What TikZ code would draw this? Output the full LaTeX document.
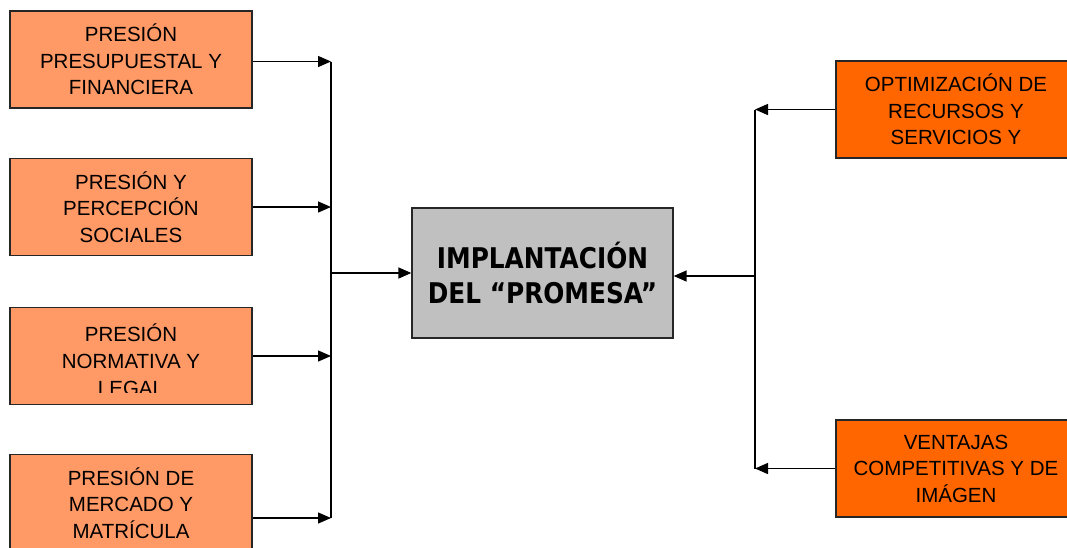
\documentclass[tikz,border=0pt]{standalone}
\usepackage{fontspec}
\setmainfont{Liberation Sans}
\newfontfamily\boldcond[FakeStretch=0.87]{DejaVu Sans}
\usetikzlibrary{arrows.meta,calc}
\definecolor{lightor}{HTML}{FF9966}
\definecolor{darkor}{HTML}{FF6600}
\definecolor{boxgray}{HTML}{C0C0C0}
\begin{document}
\begin{tikzpicture}[x=1pt,y=-1pt,
  sidebox/.style={draw=black!85,line width=1.3pt,inner sep=0pt,minimum width=242pt,minimum height=97pt,align=center,
    font=\fontsize{20.5}{26.5}\selectfont},
  leftbox/.style={sidebox,fill=lightor},
  rightbox/.style={sidebox,fill=darkor,minimum width=240pt},
  link/.style={line width=1.4pt,draw=black},
  tip/.style={link,-{Triangle[length=13pt,width=11pt]}}]
\useasboundingbox (0,0) rectangle (1067,547);
\clip (0,0) rectangle (1067,547);
\fill[white] (0,0) rectangle (1067,547);
% left boxes
\node[leftbox] (l1) at (131,59.5) {PRESIÓN\\PRESUPUESTAL Y\\FINANCIERA};
\node[leftbox] (l2) at (131,207) {PRESIÓN Y\\PERCEPCIÓN\\SOCIALES};
\node[leftbox] (l3) at (131,356) {};
\begin{scope}
  \clip (12,309) rectangle (250,392);
  \node[align=center,inner sep=0pt,font=\fontsize{20.5}{27}\selectfont] (l3t) at (131,360) {PRESIÓN\\NORMATIVA Y\\LEGAL};
\end{scope}
\node[leftbox] (l4) at (131,503) {PRESIÓN DE\\MERCADO Y\\MATRÍCULA};
% centre box
\node[draw=black!85,line width=1.3pt,fill=boxgray,minimum width=261pt,minimum height=130pt,inner sep=0pt,align=center,
  font=\boldcond\bfseries\fontsize{28.5}{35}\selectfont] (c) at (542.5,273) {IMPLANTACIÓN\\DEL “PROMESA”};
% right boxes
\node[rightbox] (r1) at (956,109.5) {OPTIMIZACIÓN DE\\RECURSOS Y\\SERVICIOS Y};
\node[rightbox] (r2) at (956,468.5) {VENTAJAS\\COMPETITIVAS Y DE\\IMÁGEN};
% junctions
\coordinate (jl) at (331,273);
\coordinate (jr) at (755,276);
% left connectors
\draw[tip] ($(l1.east)+(0,2)$) -- ($(l1.east -| jl)+(0,2)$);
\draw[tip] (l2.east) -- (l2.east -| jl);
\draw[tip] (l3.east) -- (l3.east -| jl);
\draw[tip] ($(l4.east)+(0,15)$) -- ($(l4.east -| jl)+(0,15)$);
\draw[link] ($(l1.east -| jl)+(0,2)$) -- ($(l4.east -| jl)+(0,15)$);
\draw[tip] (jl) -- (c.west);
% right connectors
\draw[tip] (r1.west) -- (r1.west -| jr);
\draw[tip] (r2.west) -- (r2.west -| jr);
\draw[link] (r1.west -| jr) -- (r2.west -| jr);
\draw[tip] (jr) -- (jr -| c.east);
\end{tikzpicture}
\end{document}
